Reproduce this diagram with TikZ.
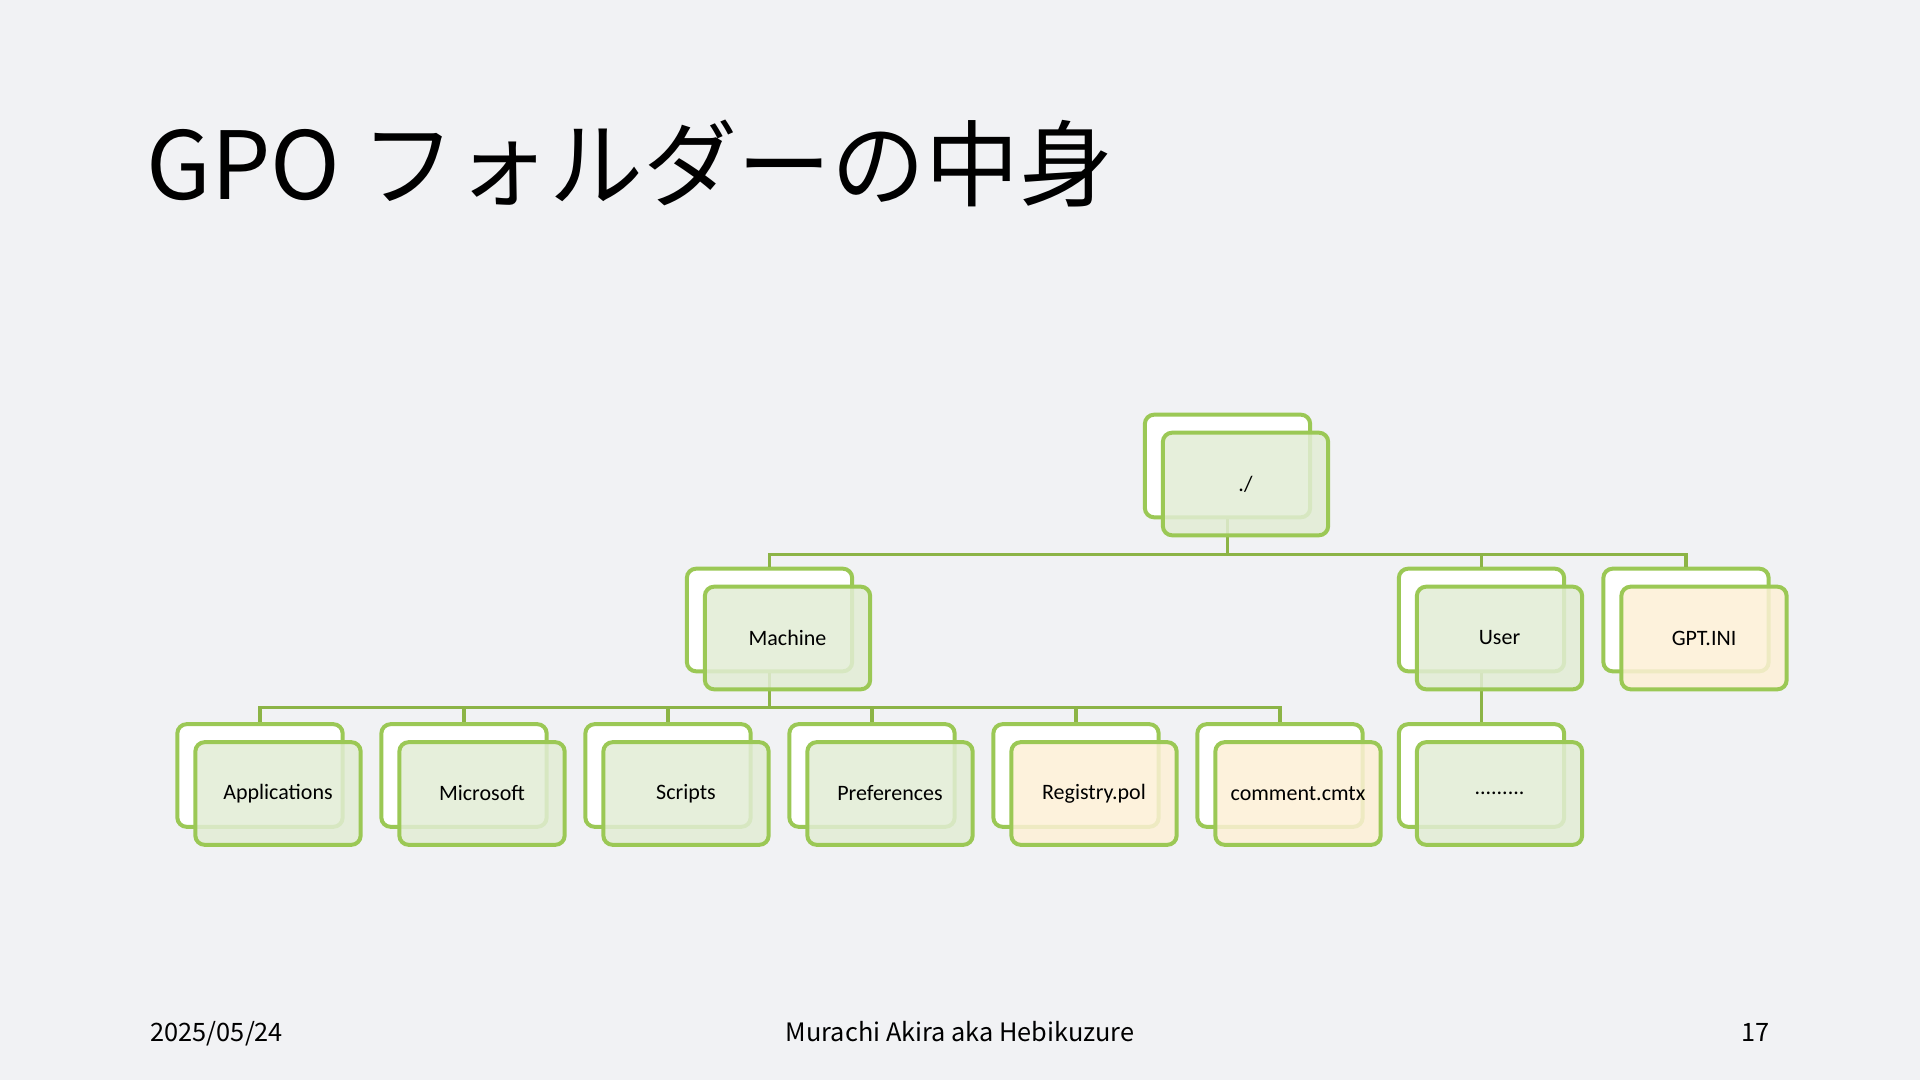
\documentclass[tikz,border=0pt]{standalone}
\usepackage{fontspec}
\setmainfont{Carlito}
\newfontfamily\jpfont{Noto Sans CJK JP}
\usetikzlibrary{positioning}

\definecolor{slidebg}{RGB}{241,242,244}
\definecolor{boxline}{RGB}{155,200,85}
\definecolor{linkline}{RGB}{140,180,70}
\definecolor{foldfill}{RGB}{226,237,213}
\definecolor{filefill}{RGB}{253,240,214}

\begin{document}
\begin{tikzpicture}[
    x=0.75pt, y=-0.75pt,
    font=\fontsize{16.5}{19}\selectfont,
    backbox/.style={rectangle, rounded corners=7pt, draw=boxline, line width=3pt, fill=white, minimum width=124pt, minimum height=77pt},
    frontbox/.style={backbox, fill=foldfill, fill opacity=0.85, text opacity=1, align=center},
    filebox/.style={frontbox, fill=filefill},
    link/.style={draw=linkline, line width=2.3pt}
]
\fill[slidebg] (0,0) rectangle (1920,1080);
\useasboundingbox (0,0) rectangle (1920,1080);

\node[anchor=base west, font=\jpfont\fontsize{70.5}{78}\selectfont] (title) at (142,200) {GPO フォルダーの中身};

% back layers
\node[backbox] (root) at (1227.5,466) {};
\node[backbox] (machine) at (769.5,620) {};
\node[backbox] (user) at (1481.5,620) {};
\node[backbox] (gpt) at (1686,620) {};
\node[backbox] (apps) at (260,775.5) {};
\node[backbox] (msft) at (464,775.5) {};
\node[backbox] (scripts) at (668,775.5) {};
\node[backbox] (prefs) at (872,775.5) {};
\node[backbox] (regpol) at (1076,775.5) {};
\node[backbox] (cmtx) at (1280,775.5) {};
\node[backbox] (usermore) at (1481.5,775.5) {};

% tree links
\draw[link] (root.south) -- ++(0,35) -| (machine.north);
\draw[link] (root.south) -- ++(0,35) -| (user.north);
\draw[link] (root.south) -- ++(0,35) -| (gpt.north);
\draw[link] (machine.south) -- ++(0,34) -| (apps.north);
\draw[link] (machine.south) -- ++(0,34) -| (msft.north);
\draw[link] (machine.south) -- ++(0,34) -| (scripts.north);
\draw[link] (machine.south) -- ++(0,34) -| (prefs.north);
\draw[link] (machine.south) -- ++(0,34) -| (regpol.north);
\draw[link] (machine.south) -- ++(0,34) -| (cmtx.north);
\draw[link] (user.south) -- (usermore.north);

% front layers
\node[frontbox] (rootf) at ([shift={(18,18)}]root.center) {./};
\node[frontbox] (machinef) at ([shift={(18,18)}]machine.center) {Machine};
\node[frontbox] (userf) at ([shift={(18,18)}]user.center) {User};
\node[filebox] (gptf) at ([shift={(18,18)}]gpt.center) {GPT.INI};
\node[frontbox] (appsf) at ([shift={(18,18)}]apps.center) {Applications};
\node[frontbox] (msftf) at ([shift={(18,18)}]msft.center) {Microsoft};
\node[frontbox] (scriptsf) at ([shift={(18,18)}]scripts.center) {Scripts};
\node[frontbox] (prefsf) at ([shift={(18,18)}]prefs.center) {Preferences};
\node[filebox] (regpolf) at ([shift={(18,18)}]regpol.center) {Registry.pol};
\node[filebox] (cmtxf) at ([shift={(18,18)}]cmtx.center) {comment.cmtx};
\node[frontbox] (usermoref) at ([shift={(18,18)}]usermore.center) {.........};

\node[anchor=base west, font=\jpfont\fontsize{19}{21}\selectfont] (date) at (146,1041) {2025/05/24};
\node[anchor=base, font=\jpfont\fontsize{19}{21}\selectfont] (author) at (960,1041) {Murachi Akira aka Hebikuzure};
\node[anchor=base east, font=\jpfont\fontsize{19}{21}\selectfont] (page) at (1774,1041) {17};
\end{tikzpicture}
\end{document}
